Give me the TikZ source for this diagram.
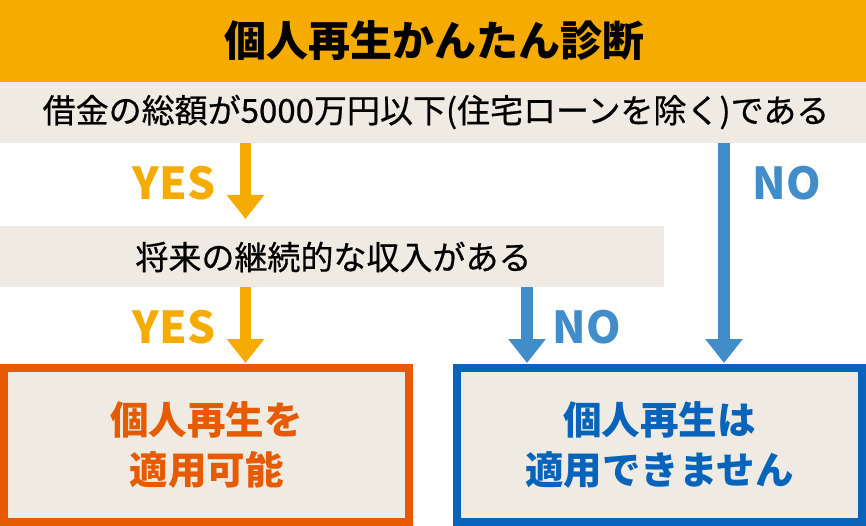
\documentclass[tikz,border=0pt]{standalone}
\usepackage{fontspec}
\setmainfont{Noto Sans CJK JP}
\newfontfamily\medfont[FakeBold=0.6]{Noto Sans CJK JP}
\usetikzlibrary{arrows.meta}
\definecolor{hdr}{HTML}{F5AB00}
\definecolor{beige}{HTML}{EFEBE2}
\definecolor{boxor}{HTML}{E65A00}
\definecolor{boxbl}{HTML}{0863BA}
\definecolor{arbl}{HTML}{408DCA}
\tikzset{
  band/.style={fill=beige, draw=none, inner sep=0pt, outer sep=0pt, anchor=north west},
  qtext/.style={text=black, inner sep=0pt, font=\medfont\fontsize{33}{38}\selectfont},
  orarrow/.style={draw=hdr, line width=11.5pt, -{Triangle[width=36pt,length=24pt]}},
  blarrow/.style={draw=arbl, line width=11.5pt, -{Triangle[width=36pt,length=24pt]}},
  lbl/.style={font=\bfseries\fontsize{44}{48}\selectfont, inner sep=0pt},
  result/.style={line width=8pt, fill=beige, inner sep=0pt, outer sep=0pt,
    minimum width=405pt, minimum height=154pt, align=center,
    font=\bfseries\fontsize{38.5}{50}\selectfont},
}
\begin{document}
\begin{tikzpicture}[x=1pt,y=-1pt]
\useasboundingbox (0,0) rectangle (866,526);
% header
\node[fill=hdr, inner sep=0pt, outer sep=0pt, anchor=north west,
      minimum width=866pt, minimum height=82pt] (head) at (0,0) {};
\node[font=\bfseries\fontsize{42}{46}\selectfont, inner sep=0pt] (title) at (434,41) {個人再生かんたん診断};
% question 1
\node[band, minimum width=866pt, minimum height=61pt] (q1) at (0,82) {};
\node[qtext] (q1t) at (436,112) {借金の総額が5000万円以下(住宅ローンを除く)である};
% question 2
\node[band, minimum width=664pt, minimum height=61pt] (q2) at (0,226) {};
\node[qtext] (q2t) at (333.5,257) {将来の継続的な収入がある};
% result boxes
\node[result, draw=boxor, text=boxor] (lbox) at (206.5,445) {個人再生を\\適用可能};
\node[result, draw=boxbl, text=boxbl] (rbox) at (659.5,445) {個人再生は\\適用できません};
% columns for connectors
\coordinate (c1) at (245.5,0);
\coordinate (c2) at (527,0);
\coordinate (c3) at (724,0);
\path ([yshift=7pt]q2.north) coordinate (q2in)
      ([yshift=5pt]lbox.north) coordinate (lin)
      ([yshift=5pt]rbox.north) coordinate (rin);
% connectors
\draw[orarrow] (q1.south -| c1) -- (q2in -| c1);
\draw[orarrow] (q2.south -| c1) -- (lin -| c1);
\draw[blarrow] (q2.south -| c2) -- (rin -| c2);
\draw[blarrow] (q1.south -| c3) -- (rin -| c3);
% labels
\node[lbl, text=hdr] (yes1) at (174,183) {YES};
\node[lbl, text=arbl] (no1) at (787,183) {NO};
\node[lbl, text=hdr] (yes2) at (174,327) {YES};
\node[lbl, text=arbl] (no2) at (587,327) {NO};
\end{tikzpicture}
\end{document}
